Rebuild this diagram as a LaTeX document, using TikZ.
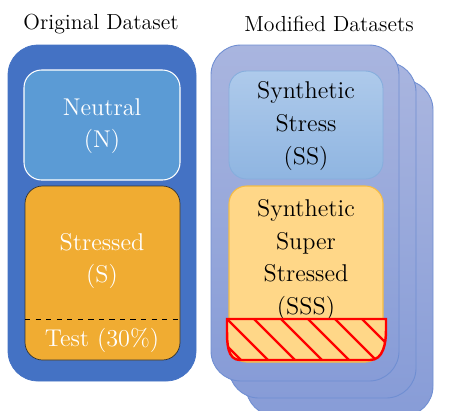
\documentclass[tikz,border=0pt]{standalone}
\definecolor{origblue}{HTML}{4472C4}
\definecolor{neutralblue}{HTML}{5B9BD5}
\definecolor{stressorange}{HTML}{F0AC32}
\definecolor{modtop}{HTML}{A9B5DF}
\definecolor{modbottom}{HTML}{879CD7}
\definecolor{modline}{HTML}{6F8ED2}
\definecolor{sstop}{HTML}{AECAEB}
\definecolor{ssbottom}{HTML}{8FB5E1}
\definecolor{ssline}{HTML}{86AEDD}
\definecolor{sssfill}{HTML}{FFD788}
\definecolor{sssline}{HTML}{F5BC45}
\tikzset{
  outerbox/.style={fill=origblue, draw=origblue, rounded corners=17pt},
  neutralbox/.style={fill=neutralblue, draw=white, line width=0.6pt, rounded corners=10pt},
  stressbox/.style={fill=stressorange, draw=black!80, line width=0.4pt, rounded corners=10pt},
  modbox/.style={top color=modtop, bottom color=modbottom, draw=modline, line width=0.5pt, rounded corners=17pt},
  ssbox/.style={top color=sstop, bottom color=ssbottom, draw=ssline, line width=0.5pt, rounded corners=10pt},
  sssbox/.style={fill=sssfill, draw=sssline, line width=0.6pt, rounded corners=10pt},
  title/.style={font=\fontsize{12.4}{15}\selectfont},
  boxtext/.style={align=center, font=\fontsize{13.8}{18.5}\selectfont, inner sep=0pt},
}

\begin{document}
\begin{tikzpicture}[x=0.02cm, y=-0.02cm]
		\clip (0, 0) rectangle (459, 410);
		
		%%%%% ORIGINAL %%%%%
		\node[title] (origtitle) at (101, 24) {Original Dataset};
		\draw[outerbox] (8, 45) rectangle (196, 381);
		\draw[neutralbox] (24, 70) rectangle (180, 180);
		\node[boxtext, text=white] (neutral) at (102, 126) {Neutral\\(N)};
		\draw[stressbox] (25, 186) rectangle (180, 360);
		\draw[dashed, black, line width=0.4pt] (25, 319) -- (180, 319);
		\node[boxtext, text=white] (stressed) at (102, 261) {Stressed\\(S)};
		\node[boxtext, text=white] (test) at (102, 340) {Test (30\%)};
		
		%%%%% MODIFIED %%%%%
		\node[title] (modtitle) at (329, 24) {Modified Datasets};
		\draw[modbox] (246, 80) rectangle (433, 416);
		\draw[modbox] (229, 62) rectangle (416, 398);
		\draw[modbox] (211, 45) rectangle (399, 381);
		
		\draw[ssbox] (229, 71) rectangle (383, 179);
		\node[boxtext] (synstress) at (306, 126) {Synthetic\\Stress\\(SS)};
		
		\draw[sssbox] (229, 186) rectangle (383, 362);
		\node[boxtext] (synsuper) at (306, 260) {Synthetic\\Super\\Stressed\\(SSS)};
		
		% hatched test part
		\begin{scope}
			\clip (227, 319) -- (386, 319) -- (386, 330) to[out=-90, in=0] (370, 360)
				-- (240, 360) to[out=180, in=-90] (227, 330) -- cycle;
			\fill[sssfill] (220, 315) rectangle (390, 365);
			\foreach \hx in {200, 227, ..., 390}
				\draw[red, line width=1.3pt] (\hx, 319) -- ++(44, 44);
		\end{scope}
		\draw[red, line width=1.4pt] (227, 319) -- (386, 319) -- (386, 330) to[out=-90, in=0] (370, 360)
			-- (240, 360) to[out=180, in=-90] (227, 330) -- cycle;
		%%%%% END %%%%%
	\end{tikzpicture}
\end{document}
